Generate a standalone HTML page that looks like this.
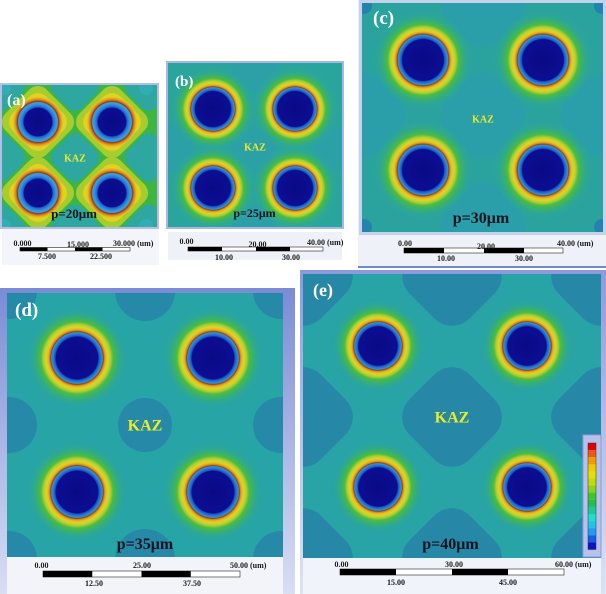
<!DOCTYPE html>
<html><head><meta charset="utf-8">
<style>
html,body{margin:0;padding:0;background:#fff;}
svg{display:block;}
text{font-family:"Liberation Serif",serif;font-weight:bold;}
.s{font-size:8px;fill:#1a1a1a;}
.w{fill:#fff;}
.k{fill:#ecec28;}
.p{fill:#141420;}
</style></head><body>
<svg width="606" height="594" viewBox="0 0 606 594" xmlns="http://www.w3.org/2000/svg">
<defs>
<radialGradient id="hT" cx="0.5" cy="0.5" r="0.5">
 <stop offset="0" stop-color="#0a0a86"/>
 <stop offset="0.41" stop-color="#0c0e92"/>
 <stop offset="0.435" stop-color="#1c58c4"/>
 <stop offset="0.47" stop-color="#2a7cd4"/>
 <stop offset="0.50" stop-color="#2c96d4"/>
 <stop offset="0.515" stop-color="#8a3e1e"/>
 <stop offset="0.54" stop-color="#d68c1c"/>
 <stop offset="0.57" stop-color="#e2c020"/>
 <stop offset="0.61" stop-color="#dcd428"/>
 <stop offset="0.66" stop-color="#a8cf36"/>
 <stop offset="0.71" stop-color="#4cbc40"/>
 <stop offset="0.78" stop-color="#3cb462" stop-opacity="0.85"/>
 <stop offset="0.88" stop-color="#31ab88" stop-opacity="0.45"/>
 <stop offset="1" stop-color="#2aa6a0" stop-opacity="0"/>
</radialGradient>
<radialGradient id="hA" cx="0.5" cy="0.5" r="0.5">
 <stop offset="0" stop-color="#0a0a86"/>
 <stop offset="0.56" stop-color="#0c0e92"/>
 <stop offset="0.60" stop-color="#1f62c8"/>
 <stop offset="0.70" stop-color="#3490e0"/>
 <stop offset="0.78" stop-color="#3aa2dc"/>
 <stop offset="0.82" stop-color="#8a3818"/>
 <stop offset="0.88" stop-color="#d27a1a"/>
 <stop offset="0.94" stop-color="#e4a822"/>
 <stop offset="1" stop-color="#e2cc20"/>
</radialGradient>
<linearGradient id="fd" x1="0" y1="0" x2="0" y2="1">
 <stop offset="0" stop-color="#7a8cd6"/>
 <stop offset="1" stop-color="#d8def4"/>
</linearGradient>
<linearGradient id="fe" x1="0" y1="0" x2="0" y2="1">
 <stop offset="0" stop-color="#8a9bdc"/>
 <stop offset="1" stop-color="#dde2f4"/>
</linearGradient>
<clipPath id="cA"><rect x="2" y="85" width="155" height="142"/></clipPath>
<clipPath id="cB"><rect x="168" y="63" width="174" height="164"/></clipPath>
<clipPath id="cC"><rect x="362" y="3" width="241" height="229"/></clipPath>
<clipPath id="cD"><rect x="7" y="293" width="276" height="264"/></clipPath>
<clipPath id="cE"><rect x="303" y="274" width="298" height="284"/></clipPath>
</defs>

<!-- ============ PANEL A ============ -->
<rect x="0" y="83" width="159" height="146" fill="#b4bfe6"/>
<rect x="2" y="229" width="157" height="36" fill="#f4f5fa"/>
<g clip-path="url(#cA)">
 <rect x="2" y="85" width="155" height="142" fill="#3cb542"/>
 <g fill="#2ea7a0">
  <rect x="55" y="137.5" width="40" height="40" rx="10" transform="rotate(45 75 157.5)"/>
  <rect x="-19" y="137.5" width="40" height="40" rx="10" transform="rotate(45 1 157.5)"/>
  <rect x="129" y="137.5" width="40" height="40" rx="10" transform="rotate(45 149 157.5)"/>
  <rect x="55" y="66.5" width="40" height="40" rx="10" transform="rotate(45 75 86.5)"/>
  <rect x="55" y="208.5" width="40" height="40" rx="10" transform="rotate(45 75 228.5)"/>
  <rect x="-19" y="66.5" width="40" height="40" rx="10" transform="rotate(45 1 86.5)"/>
  <rect x="129" y="66.5" width="40" height="40" rx="10" transform="rotate(45 149 86.5)"/>
  <rect x="-19" y="208.5" width="40" height="40" rx="10" transform="rotate(45 1 228.5)"/>
  <rect x="129" y="208.5" width="40" height="40" rx="10" transform="rotate(45 149 228.5)"/>
 </g>
 <g fill="#34b2c0" opacity="0.6">
  <circle cx="4" cy="88" r="7"/><circle cx="146" cy="88" r="7"/>
  <circle cx="4" cy="226" r="7"/><circle cx="146" cy="226" r="7"/>
 </g>
 <g fill="#a6cc30">
  <rect x="9" y="93" width="58" height="58" rx="12" transform="rotate(45 38 122)"/>
  <rect x="83" y="93" width="58" height="58" rx="12" transform="rotate(45 112 122)"/>
  <rect x="9" y="164" width="58" height="58" rx="12" transform="rotate(45 38 193)"/>
  <rect x="83" y="164" width="58" height="58" rx="12" transform="rotate(45 112 193)"/>
 </g>
 <g fill="#e0d21e">
  <rect x="14" y="98" width="48" height="48" rx="12" transform="rotate(45 38 122)"/>
  <rect x="88" y="98" width="48" height="48" rx="12" transform="rotate(45 112 122)"/>
  <rect x="14" y="169" width="48" height="48" rx="12" transform="rotate(45 38 193)"/>
  <rect x="88" y="169" width="48" height="48" rx="12" transform="rotate(45 112 193)"/>
 </g>
 <circle cx="38" cy="122" r="25" fill="url(#hA)"/>
 <circle cx="112" cy="122" r="25" fill="url(#hA)"/>
 <circle cx="38" cy="193" r="25" fill="url(#hA)"/>
 <circle cx="112" cy="193" r="25" fill="url(#hA)"/>
</g>
<text x="7" y="105" class="w" font-size="16">(a)</text>
<text x="75" y="161.5" class="k" font-size="10" text-anchor="middle">KAZ</text>
<text x="74" y="218" class="p" font-size="13" text-anchor="middle">p=20μm</text>
<rect x="20" y="247.5" width="110" height="3.5" fill="#fff" stroke="#222" stroke-width="0.6"/>
<rect x="20" y="247.5" width="27.5" height="3.5" fill="#000"/>
<rect x="75" y="247.5" width="27.5" height="3.5" fill="#000"/>
<text x="22.5" y="246" class="s" text-anchor="middle">0.000</text>
<text x="78" y="247" class="s" text-anchor="middle">15.000</text>
<text x="113" y="246" class="s">30.000 (um)</text>
<text x="47" y="259" class="s" text-anchor="middle">7.500</text>
<text x="101" y="259" class="s" text-anchor="middle">22.500</text>

<!-- ============ PANEL B ============ -->
<rect x="166" y="61" width="178" height="168" fill="#a8b8e4"/>
<rect x="168" y="232" width="174" height="28" fill="#eef1f7"/>
<g clip-path="url(#cB)">
 <rect x="168" y="63" width="174" height="164" fill="#2aa59e"/>
 <g fill="#2c9fae" opacity="0.6">
  <rect x="234" y="128.5" width="40" height="40" rx="14" transform="rotate(45 254 148.5)"/>
  <rect x="152" y="128.5" width="40" height="40" rx="14" transform="rotate(45 172 148.5)"/>
  <rect x="316" y="128.5" width="40" height="40" rx="14" transform="rotate(45 336 148.5)"/>
  <rect x="234" y="49.5" width="40" height="40" rx="14" transform="rotate(45 254 69.5)"/>
  <rect x="234" y="207.5" width="40" height="40" rx="14" transform="rotate(45 254 227.5)"/>
 </g>
 <circle cx="213" cy="109" r="43" fill="url(#hT)"/>
 <circle cx="295" cy="109" r="43" fill="url(#hT)"/>
 <circle cx="213" cy="188" r="43" fill="url(#hT)"/>
 <circle cx="295" cy="188" r="43" fill="url(#hT)"/>
</g>
<text x="175" y="86" class="w" font-size="15">(b)</text>
<text x="255" y="150.5" class="k" font-size="10" text-anchor="middle">KAZ</text>
<text x="254.5" y="217" class="p" font-size="12" text-anchor="middle">p=25μm</text>
<rect x="188" y="247" width="135" height="4" fill="#fff" stroke="#222" stroke-width="0.6"/>
<rect x="188" y="247" width="34" height="4" fill="#000"/>
<rect x="256" y="247" width="34" height="4" fill="#000"/>
<text x="186.5" y="244" class="s" text-anchor="middle">0.00</text>
<text x="257.5" y="247" class="s" text-anchor="middle">20.00</text>
<text x="307" y="245" class="s">40.00 (um)</text>
<text x="224" y="260" class="s" text-anchor="middle">10.00</text>
<text x="291" y="260" class="s" text-anchor="middle">30.00</text>

<!-- ============ PANEL C ============ -->
<rect x="358" y="0" width="248" height="268" fill="#eef1f8"/>
<rect x="359" y="0" width="247" height="235" fill="#c4d2ec"/>
<line x1="358" y1="267" x2="606" y2="267" stroke="#7088cc" stroke-width="2"/>
<g clip-path="url(#cC)">
 <rect x="362" y="3" width="241" height="229" fill="#2aa39e"/>
 <rect x="447" y="79" width="72" height="72" rx="20" transform="rotate(45 483 115)" fill="#2a9ea9"/>
 <g fill="#2a9ea9">
  <rect x="327" y="79" width="72" height="72" rx="20" transform="rotate(45 363 115)"/>
  <rect x="567" y="79" width="72" height="72" rx="20" transform="rotate(45 603 115)"/>
  <rect x="447" y="-31" width="72" height="72" rx="20" transform="rotate(45 483 5)"/>
  <rect x="447" y="189" width="72" height="72" rx="20" transform="rotate(45 483 225)"/>
 </g>
 <g fill="#2283ad">
  <circle cx="364" cy="6" r="8"/><circle cx="602" cy="6" r="8"/>
  <circle cx="364" cy="227" r="8"/><circle cx="602" cy="227" r="8"/>
 </g>
 <circle cx="423" cy="60" r="50" fill="url(#hT)"/>
 <circle cx="543" cy="60" r="50" fill="url(#hT)"/>
 <circle cx="423" cy="170" r="50" fill="url(#hT)"/>
 <circle cx="543" cy="170" r="50" fill="url(#hT)"/>
</g>
<text x="373" y="24" class="w" font-size="19">(c)</text>
<text x="483" y="122.5" class="k" font-size="10" text-anchor="middle">KAZ</text>
<text x="481" y="223" class="p" font-size="16" text-anchor="middle">p=30μm</text>
<rect x="404" y="248" width="159" height="5" fill="#fff" stroke="#222" stroke-width="0.6"/>
<rect x="404" y="248" width="40" height="5" fill="#000"/>
<rect x="484" y="248" width="40" height="5" fill="#000"/>
<text x="405" y="246" class="s" text-anchor="middle">0.00</text>
<text x="486" y="249" class="s" text-anchor="middle">20.00</text>
<text x="557" y="246" class="s">40.00 (um)</text>
<text x="446" y="261" class="s" text-anchor="middle">10.00</text>
<text x="524" y="261" class="s" text-anchor="middle">30.00</text>

<!-- ============ PANEL D ============ -->
<rect x="0" y="288" width="295" height="306" fill="url(#fd)"/>
<rect x="7" y="557" width="276" height="37" fill="#f3f4fa"/>
<g clip-path="url(#cD)">
 <rect x="7" y="293" width="276" height="264" fill="#27a4a6"/>
 <g fill="#2689a7">
  <circle cx="145" cy="425" r="27"/>
  <circle cx="9" cy="425" r="28"/><circle cx="281" cy="425" r="28"/>
  <circle cx="145" cy="291" r="30"/><circle cx="145" cy="559" r="30"/>
  <circle cx="9" cy="291" r="28"/><circle cx="281" cy="291" r="28"/>
  <circle cx="9" cy="559" r="28"/><circle cx="281" cy="559" r="28"/>
 </g>
 <circle cx="77" cy="358" r="51" fill="url(#hT)"/>
 <circle cx="213" cy="358" r="51" fill="url(#hT)"/>
 <circle cx="77" cy="492" r="51" fill="url(#hT)"/>
 <circle cx="213" cy="492" r="51" fill="url(#hT)"/>
</g>
<text x="15" y="316" class="w" font-size="19">(d)</text>
<text x="145" y="430.5" class="k" font-size="16" text-anchor="middle">KAZ</text>
<text x="145" y="549" class="p" font-size="16" text-anchor="middle">p=35μm</text>
<rect x="43" y="571" width="197" height="6" fill="#fff" stroke="#222" stroke-width="0.6"/>
<rect x="43" y="571" width="49.25" height="6" fill="#000"/>
<rect x="141.5" y="571" width="49.25" height="6" fill="#000"/>
<text x="41.5" y="568" class="s" text-anchor="middle">0.00</text>
<text x="142" y="568" class="s" text-anchor="middle">25.00</text>
<text x="230" y="568" class="s">50.00 (um)</text>
<text x="94" y="586" class="s" text-anchor="middle">12.50</text>
<text x="192" y="586" class="s" text-anchor="middle">37.50</text>

<!-- ============ PANEL E ============ -->
<rect x="300" y="270" width="306" height="324" fill="url(#fe)"/>
<rect x="303" y="558" width="298" height="36" fill="#f1f3fa"/>
<g clip-path="url(#cE)">
 <rect x="303" y="274" width="298" height="284" fill="#28a3a6"/>
 <g fill="#2688a6">
  <rect x="409.5" y="374.5" width="85" height="85" rx="25" transform="rotate(45 452 417)"/>
  <rect x="260.5" y="374.5" width="85" height="85" rx="25" transform="rotate(45 303 417)"/>
  <rect x="558.5" y="374.5" width="85" height="85" rx="25" transform="rotate(45 601 417)"/>
  <rect x="409.5" y="233.5" width="85" height="85" rx="25" transform="rotate(45 452 276)"/>
  <rect x="409.5" y="515.5" width="85" height="85" rx="25" transform="rotate(45 452 558)"/>
  <rect x="260.5" y="233.5" width="85" height="85" rx="25" transform="rotate(45 303 276)"/>
  <rect x="558.5" y="233.5" width="85" height="85" rx="25" transform="rotate(45 601 276)"/>
  <rect x="260.5" y="515.5" width="85" height="85" rx="25" transform="rotate(45 303 558)"/>
  <rect x="558.5" y="515.5" width="85" height="85" rx="25" transform="rotate(45 601 558)"/>
 </g>
 <circle cx="378" cy="346" r="47" fill="url(#hT)"/>
 <circle cx="527" cy="346" r="47" fill="url(#hT)"/>
 <circle cx="378" cy="487" r="47" fill="url(#hT)"/>
 <circle cx="527" cy="487" r="47" fill="url(#hT)"/>
</g>
<text x="313" y="296" class="w" font-size="18">(e)</text>
<text x="452" y="422.5" class="k" font-size="16" text-anchor="middle">KAZ</text>
<text x="450.5" y="549" class="p" font-size="16" text-anchor="middle">p=40μm</text>
<!-- legend -->
<rect x="583" y="435" width="18" height="122" fill="#b6c2ea" stroke="#8a9ad8" stroke-width="1"/>
<g>
 <rect x="588" y="443" width="8" height="7.1" fill="#e00000"/>
 <rect x="588" y="450.1" width="8" height="7.1" fill="#ee5a10"/>
 <rect x="588" y="457.2" width="8" height="7.1" fill="#f09c00"/>
 <rect x="588" y="464.3" width="8" height="7.1" fill="#f2ca00"/>
 <rect x="588" y="471.4" width="8" height="7.1" fill="#e6e000"/>
 <rect x="588" y="478.5" width="8" height="7.1" fill="#c0dc00"/>
 <rect x="588" y="485.6" width="8" height="7.1" fill="#88d418"/>
 <rect x="588" y="492.7" width="8" height="7.1" fill="#3cc82c"/>
 <rect x="588" y="499.8" width="8" height="7.1" fill="#20c050"/>
 <rect x="588" y="506.9" width="8" height="7.1" fill="#20c898"/>
 <rect x="588" y="514" width="8" height="7.1" fill="#22dccc"/>
 <rect x="588" y="521.1" width="8" height="7.1" fill="#22c4e6"/>
 <rect x="588" y="528.2" width="8" height="7.1" fill="#1e9cf0"/>
 <rect x="588" y="535.3" width="8" height="7.1" fill="#1060e6"/>
 <rect x="588" y="542.4" width="8" height="7.1" fill="#0a14c0"/>
 <rect x="588" y="443" width="8" height="106.5" fill="none" stroke="#334" stroke-width="0.5"/>
</g>
<rect x="340" y="569" width="224" height="6" fill="#fff" stroke="#222" stroke-width="0.6"/>
<rect x="340" y="569" width="56" height="6" fill="#000"/>
<rect x="452" y="569" width="56" height="6" fill="#000"/>
<text x="341.5" y="567" class="s" text-anchor="middle">0.00</text>
<text x="454" y="567" class="s" text-anchor="middle">30.00</text>
<text x="555" y="567" class="s">60.00 (um)</text>
<text x="396" y="585" class="s" text-anchor="middle">15.00</text>
<text x="508" y="585" class="s" text-anchor="middle">45.00</text>
</svg>
</body></html>
